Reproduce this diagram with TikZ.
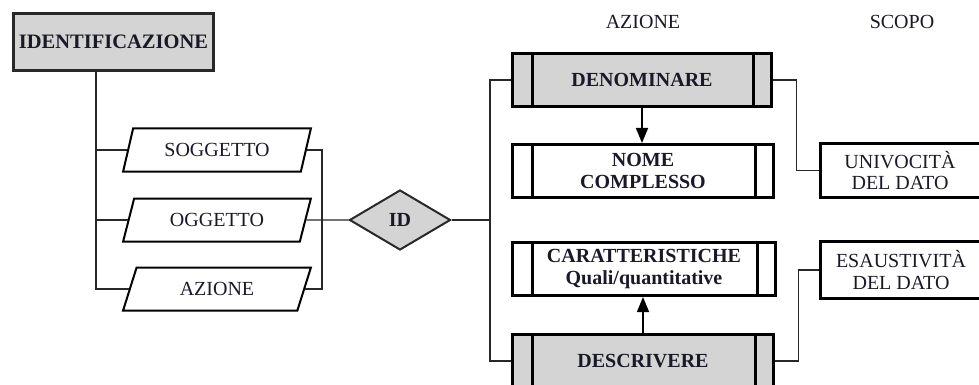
\documentclass[tikz,border=0pt]{standalone}
\usepackage{fontspec}
\setmainfont{Liberation Serif}
\usetikzlibrary{shapes.geometric,arrows.meta}
\definecolor{boxgray}{RGB}{212,212,212}
\definecolor{edge}{RGB}{40,40,40}
\definecolor{ink}{RGB}{25,25,40}

\begin{document}
\begin{tikzpicture}[x=1pt,y=-1pt,
  every node/.style={font=\fontsize{20}{21.5}\selectfont, text=ink, inner sep=0pt, align=center},
  wire/.style={draw=edge, line width=1.2pt},
  flow/.style={draw=black, line width=1.5pt, -{Triangle[width=12pt,length=15pt]}},
  rootbox/.style={draw=edge, fill=boxgray, line width=3pt, minimum width=200pt,
    minimum height=57pt, font=\fontsize{20.5}{22}\selectfont\bfseries},
  databox/.style={trapezium, trapezium left angle=65, trapezium right angle=115,
    trapezium stretches=true, draw=black, line width=2pt, fill=white,
    minimum width=188pt, minimum height=43pt},
  keybox/.style={diamond, draw=edge, fill=boxgray, line width=2pt, aspect=1.68,
    minimum width=101pt, minimum height=60pt, font=\fontsize{20}{21.5}\selectfont\bfseries},
  actbox/.style={draw=black, line width=3pt, minimum height=53pt,
    font=\fontsize{20}{21.5}\selectfont\bfseries,
    path picture={\draw[black, line width=3pt]
      ([xshift=20pt]path picture bounding box.north west) -- ([xshift=20pt]path picture bounding box.south west)
      ([xshift=-18pt]path picture bounding box.north east) -- ([xshift=-18pt]path picture bounding box.south east);}},
  mainact/.style={actbox, fill=boxgray},
  subact/.style={actbox, fill=white},
  goalbox/.style={draw=black, line width=3pt, fill=white, anchor=west}
]
\useasboundingbox (0,0) rectangle (979,385);

% column titles
\node (hAz) at (643,22) {AZIONE};
\node (hSc) at (902,22) {SCOPO};

% identification and its three attributes
\node[rootbox] (ident) at (113.5,42) {IDENTIFICAZIONE};
\node[databox] (sogg) at (217,150) {SOGGETTO};
\node[databox] (ogg)  at (217,220) {OGGETTO};
\node[databox] (azio) at (217,289) {AZIONE};
\node[keybox] (id) at (400,220) {ID};

% actions
\node[mainact, minimum width=259pt] (denom) at (642,80) {DENOMINARE};
\node[subact,  minimum width=261pt] (nome)  at (643,171) {NOME\\COMPLESSO};
\node[subact,  minimum width=263pt] (carat) at (644,269) {CARATTERISTICHE\\Quali/quantitative};
\node[mainact, minimum width=261pt] (descr) at (643,361) {DESCRIVERE};

% goals
\node[goalbox, minimum height=54pt] (univ) at (818.5,170.5)
  {\parbox{160pt}{\centering UNIVOCITÀ\\DEL DATO}\hspace*{24pt}};
\node[goalbox, minimum height=57pt] (esau) at (818.5,270)
  {\parbox{162pt}{\centering ESAUSTIVITÀ\\DEL DATO}\hspace*{22pt}};

% left spine
\coordinate (spine) at (96,72);
\draw[wire] (spine) |- (azio.west);
\draw[wire] (spine) |- (sogg.west);
\draw[wire] (spine) |- (ogg.west);

% right bus to the key
\coordinate (rbus) at (322,220);
\draw[wire] (sogg.east) -| (rbus) |- (azio.east);
\draw[wire] (ogg.east) -- (id.west);

% key to actions
\coordinate (abus) at (490,220);
\draw[wire] (id.east) -- (abus);
\draw[wire] (denom.west) -| (abus) |- (descr.west);

% actions to goals
\draw[wire] (denom.east) -- ++(23.5,0) |- (univ.west);
\draw[wire] (descr.east) -- ++(23.5,0) |- (esau.west);

% action results
\draw[flow] (denom.south) -- (denom.south |- nome.north);
\draw[flow] (descr.north) -- (descr.north |- carat.south);
\end{tikzpicture}
\end{document}
